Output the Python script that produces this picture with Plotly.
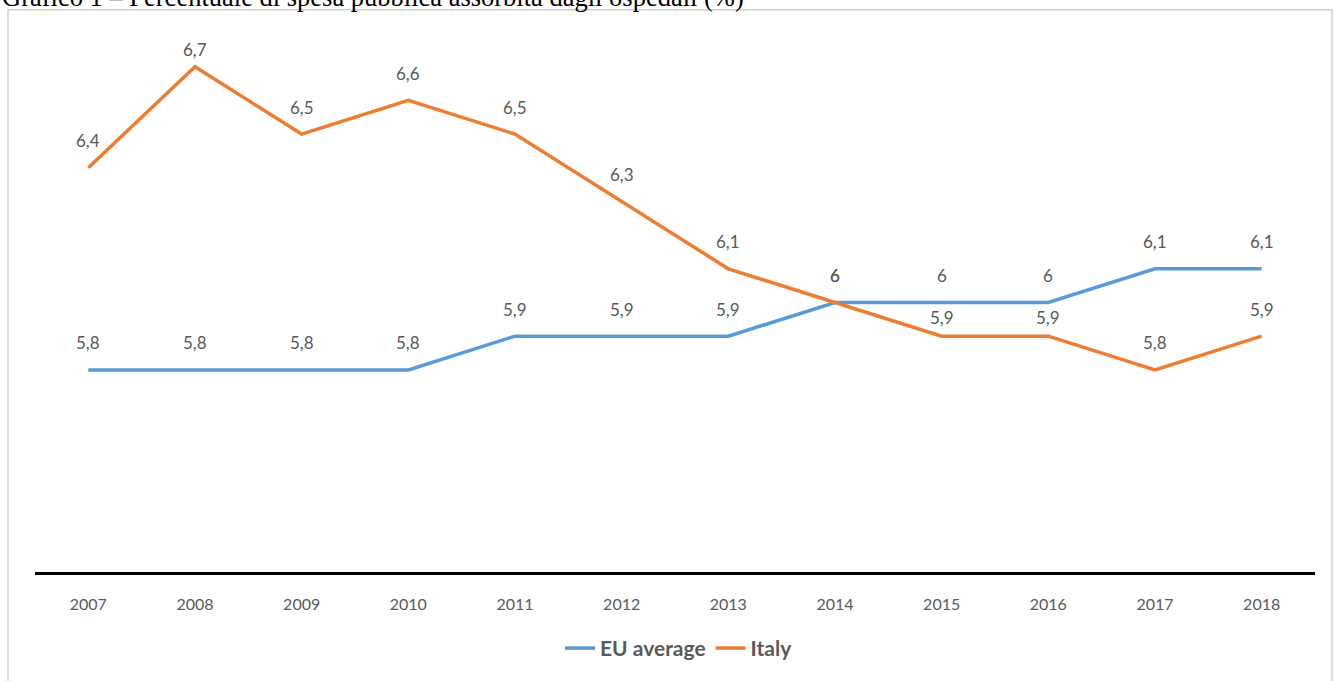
import plotly.graph_objects as go

years = ["2007", "2008", "2009", "2010", "2011", "2012", "2013", "2014", "2015", "2016", "2017", "2018"]
eu_average = [5.8, 5.8, 5.8, 5.8, 5.9, 5.9, 5.9, 6.0, 6.0, 6.0, 6.1, 6.1]
italy = [6.4, 6.7, 6.5, 6.6, 6.5, 6.3, 6.1, 6.0, 5.9, 5.9, 5.8, 5.9]
title_text = "Grafico 1 – Percentuale di spesa pubblica assorbita dagli ospedali (%)"

BLUE = "#5B9BD5"
ORANGE = "#ED7D31"
LABEL_GREY = "#595959"
FONT = "Lato"

# plot-area geometry in pixels (for paper-coordinate helpers)
L, R, T, B = 35, 18, 33, 105
W, H = 1333, 681
PW, PH = W - L - R, H - T - B

def px_x(x):
    return (x - L) / PW

def px_y(y):
    return (H - B - y) / PH

def fmt(v):
    s = ("%.1f" % v).rstrip("0").rstrip(".")
    return s.replace(".", ",")

fig = go.Figure()
fig.add_trace(go.Scatter(x=years, y=eu_average, mode="lines", name="EU average",
                         line=dict(color=BLUE, width=3.5)))
fig.add_trace(go.Scatter(x=years, y=italy, mode="lines", name="Italy",
                         line=dict(color=ORANGE, width=3.5)))

annotations = []
DEFAULT_SHIFT = 27
italy_shift = {1: 17, 8: 19, 9: 19}
label_font = dict(family=FONT, size=17, color=LABEL_GREY)
for i, v in enumerate(eu_average):
    annotations.append(dict(x=i, y=v, text=fmt(v), showarrow=False, yshift=DEFAULT_SHIFT,
                            font=label_font))
for i, v in enumerate(italy):
    annotations.append(dict(x=i, y=v, text=fmt(v), showarrow=False,
                            yshift=italy_shift.get(i, DEFAULT_SHIFT), font=label_font))

# cut-off document caption above the chart
annotations.append(dict(xref="paper", yref="paper", x=px_x(0), y=px_y(14),
                        xanchor="left", yanchor="bottom", text=title_text, showarrow=False,
                        font=dict(family="Liberation Serif", size=26.5, color="black")))

fig.update_layout(
    width=W, height=H,
    margin=dict(l=L, r=R, t=T, b=B),
    paper_bgcolor="white", plot_bgcolor="white",
    annotations=annotations,
    showlegend=True,
    legend=dict(orientation="h", x=px_x(679), y=px_y(653), xanchor="center", yanchor="middle",
                font=dict(family=FONT, size=21, color=LABEL_GREY, weight="bold")),
    shapes=[dict(type="rect", xref="paper", yref="paper",
                 x0=px_x(8), x1=px_x(1332), y0=px_y(690), y1=px_y(9.5),
                 line=dict(color="#cfcfcf", width=1.5), layer="below")],
)
fig.update_xaxes(type="category", range=[-0.5, 11.5], showline=True, linecolor="black",
                 linewidth=3, showgrid=False, ticks="", ticklabelstandoff=16,
                 tickfont=dict(family=FONT, size=16, color=LABEL_GREY), zeroline=False)
fig.update_yaxes(range=[5.2, 6.8], showgrid=False, showticklabels=False, zeroline=False,
                 showline=False)

fig.write_html("out.html")
